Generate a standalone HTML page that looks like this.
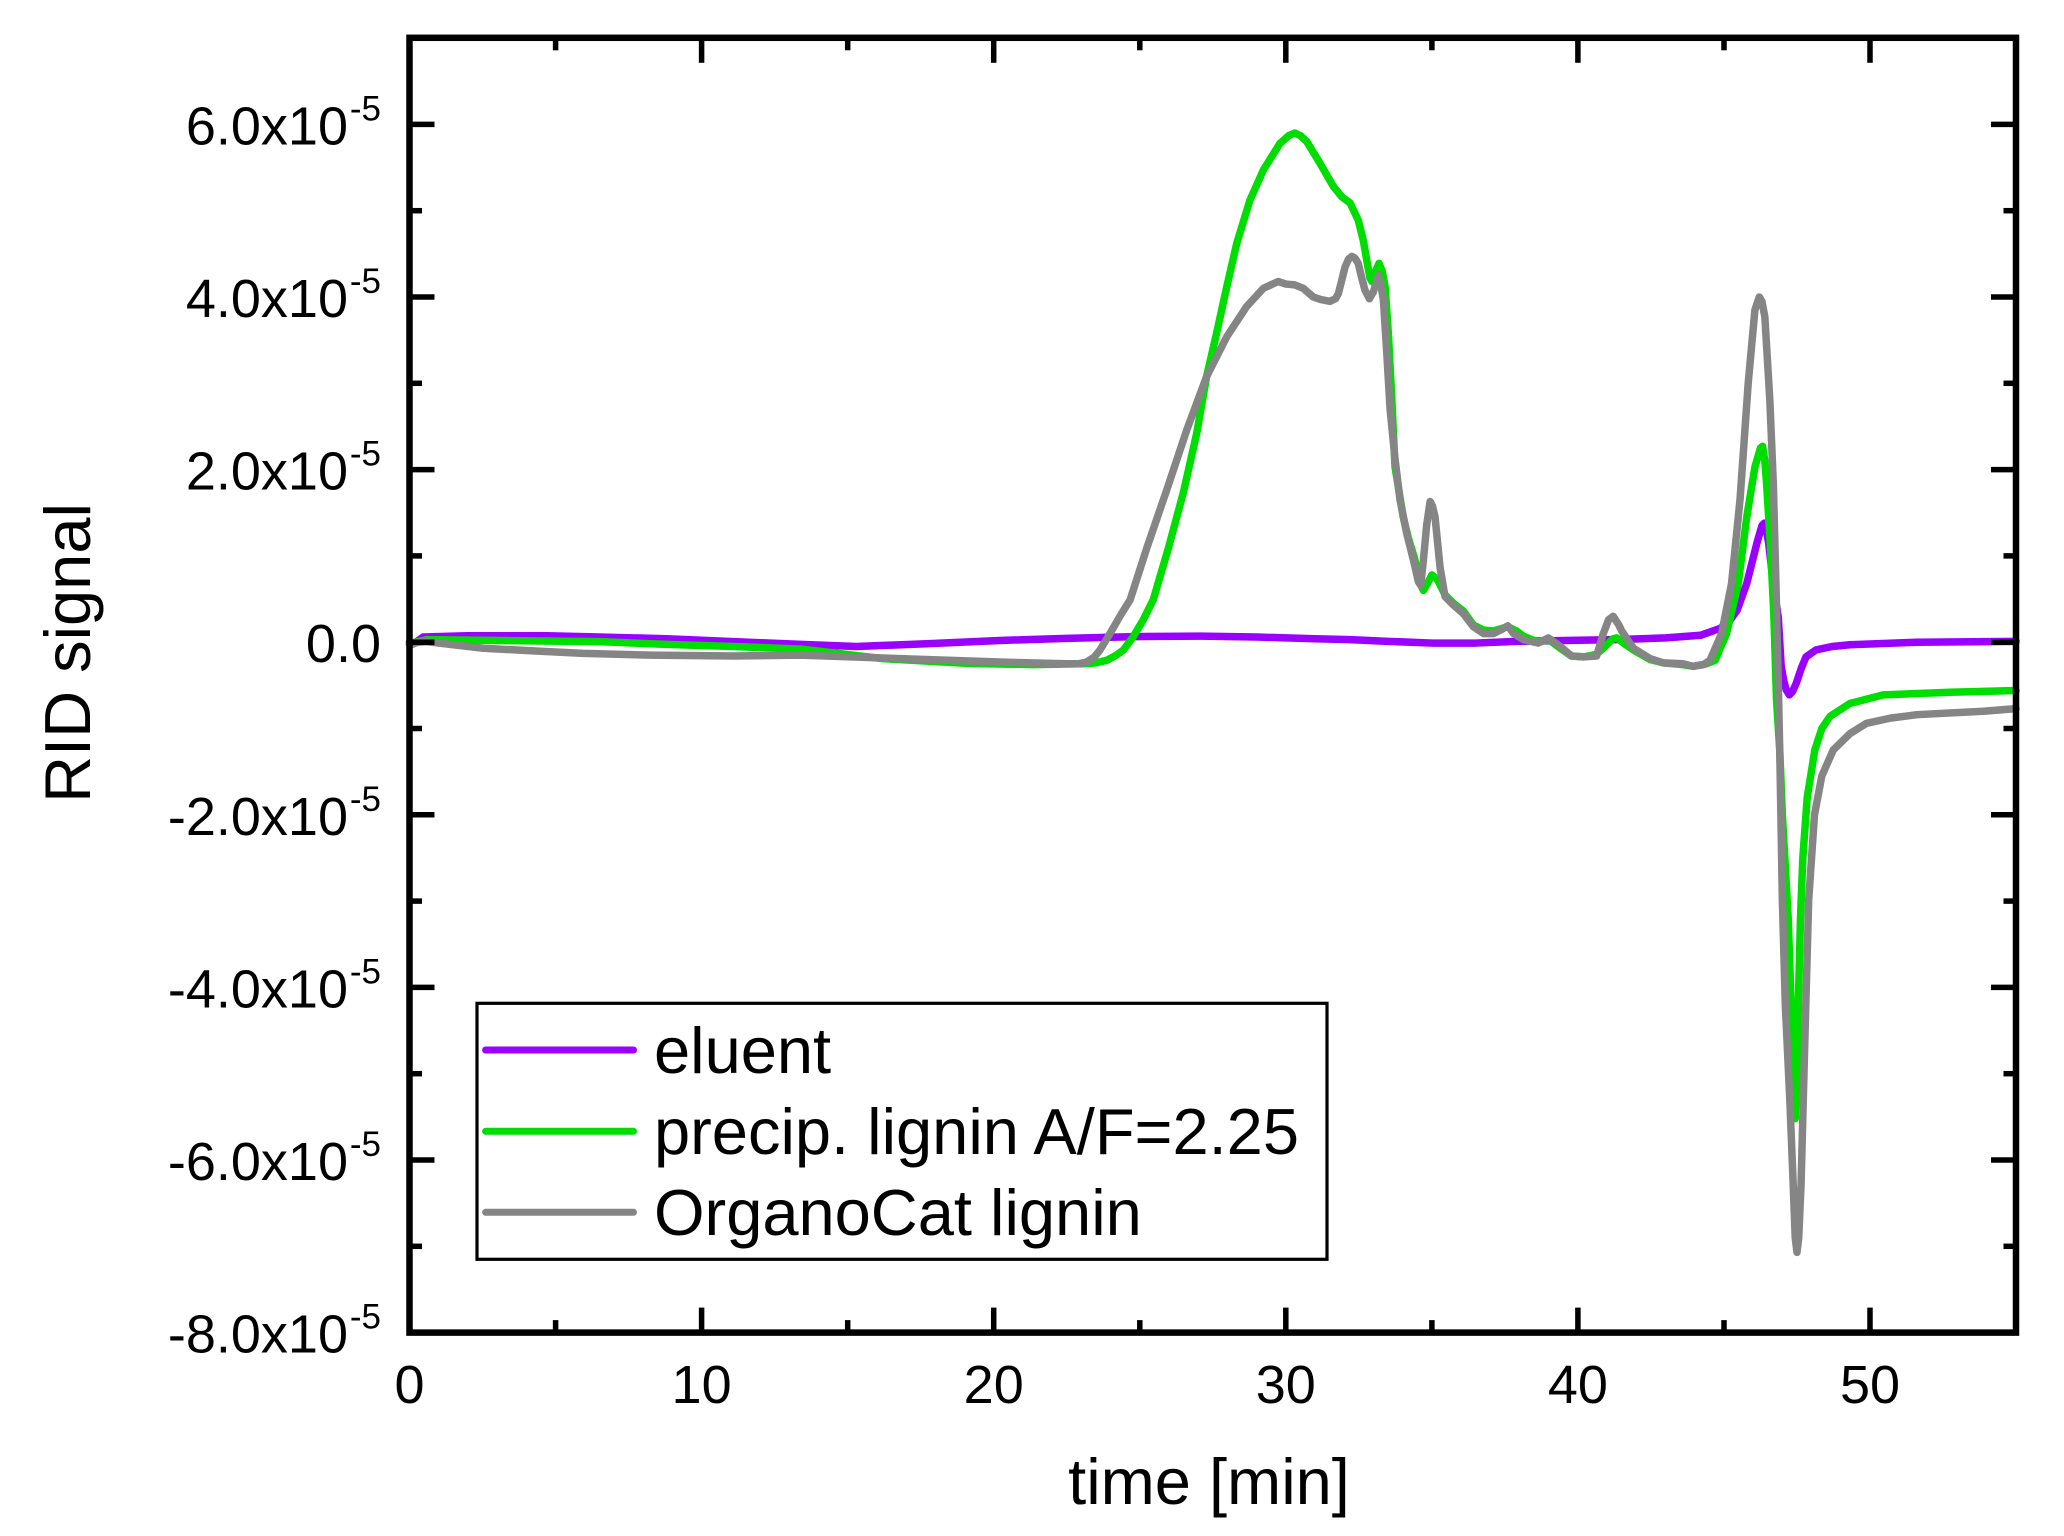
<!DOCTYPE html>
<html>
<head>
<meta charset="utf-8">
<style>
  html, body { margin: 0; padding: 0; background: #ffffff; }
  svg { display: block; }
  text { font-family: "Liberation Sans", Arial, sans-serif; fill: #000; }
</style>
</head>
<body>
<svg width="2064" height="1536" viewBox="0 0 2064 1536" xmlns="http://www.w3.org/2000/svg">
  <rect x="0" y="0" width="2064" height="1536" fill="#ffffff"/>

  <!-- data series: transform data (t in min, v in 1e-5) to pixels -->
  <g transform="translate(409.5 642.2) scale(29.21 -86.3)" fill="none" stroke-linejoin="round" stroke-linecap="round">
    <!-- eluent -->
    <polyline vector-effect="non-scaling-stroke" stroke="#9900ff" stroke-width="7.5" points="
      0,0 0.13,-0.02 0.47,0.06 1.96,0.075 4.7,0.075 6.5,0.06 8.8,0.04 11.1,0.006 13.4,-0.025
      15.3,-0.05 17.9,-0.015 20.2,0.02 22.5,0.045 24.8,0.065 27.1,0.07 29,0.06 31,0.04 32.2,0.03
      33.5,0.01 35,-0.01 36.5,-0.01 37.9,0.01 39.5,0.02 41.3,0.03 43,0.05 44.2,0.08 44.87,0.16
      45.2,0.25 45.45,0.37 45.78,0.68 46.13,1.15 46.3,1.35 46.38,1.38 46.45,1.3 46.53,1.15
      46.69,0.68 46.86,0.29 46.96,-0.28 47.05,-0.45 47.13,-0.55 47.24,-0.61 47.35,-0.57
      47.47,-0.48 47.65,-0.3 47.81,-0.17 48.15,-0.09 48.7,-0.05 49.31,-0.03 51.6,0 55,0.01"/>
    <!-- precip. lignin -->
    <polyline vector-effect="non-scaling-stroke" stroke="#00dd00" stroke-width="7.5" points="
      0,-0.02 0.13,-0.005 0.59,0.03 3.1,0.02 6.5,0.006 8.8,-0.025 11.1,-0.05 13.4,-0.08
      16.2,-0.19 19.1,-0.245 21.35,-0.26 23.07,-0.25 23.5,-0.24 23.87,-0.21 24.2,-0.15 24.44,-0.09
      24.78,0.065 25.12,0.26 25.46,0.49 25.98,1.09 26.49,1.73 26.95,2.42 27.29,3.08 27.63,3.58
      27.98,4.12 28.32,4.62 28.77,5.12 29.23,5.47 29.8,5.78 30.1,5.87 30.31,5.9 30.5,5.87
      30.72,5.8 31.17,5.55 31.63,5.28 31.92,5.16 32.2,5.09 32.48,4.89 32.65,4.66 32.88,4.22
      32.95,4.18 33.05,4.28 33.19,4.39 33.3,4.3 33.4,4.12 33.51,3.58 33.63,2.81 33.74,2.03
      34.02,1.45 34.2,1.2 34.4,0.98 34.6,0.68 34.71,0.6 34.85,0.68 35.0,0.78 35.2,0.72
      35.45,0.55 35.74,0.45 36.08,0.36 36.42,0.2 36.77,0.14 37.11,0.13 37.6,0.18 37.9,0.13
      38.13,0.07 38.64,0 39.0,0.03 39.4,-0.07 39.78,-0.16 40.2,-0.17 40.64,-0.14 40.9,-0.06
      41.2,0.04 41.33,0.05 41.6,-0.02 41.9,-0.09 42.47,-0.2 42.93,-0.24 43.6,-0.26 43.95,-0.28
      44.4,-0.25 44.7,-0.21 45.09,0.1 45.49,0.68 45.78,1.45 46.06,2.03 46.25,2.25 46.32,2.27
      46.4,2.1 46.46,1.84 46.6,1.07 46.71,0.3 46.8,-0.67 46.91,-1.25 47.0,-2.0 47.1,-2.6
      47.2,-3.2 47.3,-4.2 47.38,-5.0 47.44,-5.52 47.5,-5.0 47.56,-4.0 47.62,-3.2 47.7,-2.5
      47.85,-1.8 48.11,-1.25 48.35,-1.0 48.63,-0.86 49.31,-0.71 50.45,-0.61 52.74,-0.58 55,-0.56"/>
    <!-- OrganoCat lignin -->
    <polyline vector-effect="non-scaling-stroke" stroke="#858585" stroke-width="7.5" points="
      0,-0.03 0.3,0 0.59,0.006 1.0,-0.01 1.39,-0.025 2.53,-0.07 4.24,-0.1 5.95,-0.13 8.23,-0.15
      11.1,-0.16 13.4,-0.15 16.8,-0.19 20.2,-0.23 22.5,-0.25 22.9,-0.25 23.18,-0.23 23.45,-0.17
      23.64,-0.09 23.98,0.1 24.32,0.3 24.67,0.49 25.24,1.09 25.92,1.76 26.61,2.46 27.29,3.08
      27.98,3.54 28.66,3.89 29.23,4.1 29.74,4.18 30.0,4.15 30.31,4.14 30.6,4.1 30.94,4.0
      31.2,3.97 31.51,3.95 31.7,3.98 31.8,4.04 31.92,4.2 32.03,4.35 32.15,4.44 32.26,4.47
      32.37,4.45 32.48,4.39 32.6,4.22 32.71,4.08 32.86,3.98 33.0,4.06 33.17,4.25 33.25,4.15
      33.34,3.97 33.45,3.39 33.57,2.7 33.74,2.12 33.91,1.65 34.14,1.26 34.37,0.95 34.54,0.7
      34.62,0.66 34.71,0.95 34.82,1.35 34.94,1.63 35.02,1.58 35.11,1.45 35.28,0.87 35.45,0.53
      35.74,0.43 36.08,0.33 36.42,0.18 36.77,0.1 37.11,0.1 37.4,0.15 37.6,0.19 37.8,0.1
      38.13,0.03 38.64,-0.01 38.99,0.05 39.4,-0.05 39.78,-0.16 40.2,-0.17 40.64,-0.16 40.87,0.1
      41.05,0.26 41.21,0.3 41.4,0.2 41.5,0.13 41.9,-0.07 42.47,-0.19 42.93,-0.24 43.6,-0.25
      43.95,-0.28 44.3,-0.26 44.52,-0.21 44.92,0.1 45.26,0.68 45.55,1.65 45.83,3.0 46.06,3.85
      46.21,4.0 46.3,3.95 46.4,3.77 46.57,2.81 46.69,1.84 46.78,0.68 46.86,-0.48 46.91,-1.25
      47.0,-2.99 47.1,-4.2 47.26,-5.34 47.37,-6.28 47.44,-6.9 47.5,-7.07 47.56,-6.9 47.64,-6.28
      47.75,-4.86 47.9,-2.99 48.1,-2.0 48.35,-1.55 48.74,-1.25 49.31,-1.06 49.88,-0.94
      50.7,-0.88 51.6,-0.84 53.88,-0.8 55,-0.77"/>
  </g>

  <!-- axis frame -->
  <rect x="409.5" y="37.8" width="1606.5" height="1294.8" fill="none" stroke="#000" stroke-width="6.5"/>

  <!-- ticks -->
  <g stroke="#000" stroke-width="5.5">
    <!-- bottom major -->
    <line x1="409.5" y1="1332.6" x2="409.5" y2="1307.6"/>
    <line x1="701.6" y1="1332.6" x2="701.6" y2="1307.6"/>
    <line x1="993.7" y1="1332.6" x2="993.7" y2="1307.6"/>
    <line x1="1285.8" y1="1332.6" x2="1285.8" y2="1307.6"/>
    <line x1="1577.9" y1="1332.6" x2="1577.9" y2="1307.6"/>
    <line x1="1870.0" y1="1332.6" x2="1870.0" y2="1307.6"/>
    <!-- bottom minor -->
    <line x1="555.6" y1="1332.6" x2="555.6" y2="1320.1"/>
    <line x1="847.7" y1="1332.6" x2="847.7" y2="1320.1"/>
    <line x1="1139.8" y1="1332.6" x2="1139.8" y2="1320.1"/>
    <line x1="1431.9" y1="1332.6" x2="1431.9" y2="1320.1"/>
    <line x1="1724.0" y1="1332.6" x2="1724.0" y2="1320.1"/>
    <!-- top major -->
    <line x1="701.6" y1="37.8" x2="701.6" y2="62.8"/>
    <line x1="993.7" y1="37.8" x2="993.7" y2="62.8"/>
    <line x1="1285.8" y1="37.8" x2="1285.8" y2="62.8"/>
    <line x1="1577.9" y1="37.8" x2="1577.9" y2="62.8"/>
    <line x1="1870.0" y1="37.8" x2="1870.0" y2="62.8"/>
    <!-- top minor -->
    <line x1="555.6" y1="37.8" x2="555.6" y2="50.3"/>
    <line x1="847.7" y1="37.8" x2="847.7" y2="50.3"/>
    <line x1="1139.8" y1="37.8" x2="1139.8" y2="50.3"/>
    <line x1="1431.9" y1="37.8" x2="1431.9" y2="50.3"/>
    <line x1="1724.0" y1="37.8" x2="1724.0" y2="50.3"/>
    <!-- left major -->
    <line x1="409.5" y1="124.4" x2="434.5" y2="124.4"/>
    <line x1="409.5" y1="297.0" x2="434.5" y2="297.0"/>
    <line x1="409.5" y1="469.6" x2="434.5" y2="469.6"/>
    <line x1="409.5" y1="642.2" x2="434.5" y2="642.2"/>
    <line x1="409.5" y1="814.8" x2="434.5" y2="814.8"/>
    <line x1="409.5" y1="987.4" x2="434.5" y2="987.4"/>
    <line x1="409.5" y1="1160.0" x2="434.5" y2="1160.0"/>
    <!-- left minor -->
    <line x1="409.5" y1="210.7" x2="422" y2="210.7"/>
    <line x1="409.5" y1="383.3" x2="422" y2="383.3"/>
    <line x1="409.5" y1="555.9" x2="422" y2="555.9"/>
    <line x1="409.5" y1="728.5" x2="422" y2="728.5"/>
    <line x1="409.5" y1="901.1" x2="422" y2="901.1"/>
    <line x1="409.5" y1="1073.7" x2="422" y2="1073.7"/>
    <line x1="409.5" y1="1246.3" x2="422" y2="1246.3"/>
    <!-- right major -->
    <line x1="2016" y1="124.4" x2="1991" y2="124.4"/>
    <line x1="2016" y1="297.0" x2="1991" y2="297.0"/>
    <line x1="2016" y1="469.6" x2="1991" y2="469.6"/>
    <line x1="2016" y1="642.2" x2="1991" y2="642.2"/>
    <line x1="2016" y1="814.8" x2="1991" y2="814.8"/>
    <line x1="2016" y1="987.4" x2="1991" y2="987.4"/>
    <line x1="2016" y1="1160.0" x2="1991" y2="1160.0"/>
    <!-- right minor -->
    <line x1="2016" y1="210.7" x2="2003.5" y2="210.7"/>
    <line x1="2016" y1="383.3" x2="2003.5" y2="383.3"/>
    <line x1="2016" y1="555.9" x2="2003.5" y2="555.9"/>
    <line x1="2016" y1="728.5" x2="2003.5" y2="728.5"/>
    <line x1="2016" y1="901.1" x2="2003.5" y2="901.1"/>
    <line x1="2016" y1="1073.7" x2="2003.5" y2="1073.7"/>
    <line x1="2016" y1="1246.3" x2="2003.5" y2="1246.3"/>
  </g>

  <!-- y tick labels -->
  <g font-size="54" text-anchor="end">
    <text x="348" y="144.4">6.0x10</text>
    <text x="348" y="317.0">4.0x10</text>
    <text x="348" y="489.6">2.0x10</text>
    <text x="381" y="662.2">0.0</text>
    <text x="348" y="834.8">-2.0x10</text>
    <text x="348" y="1007.4">-4.0x10</text>
    <text x="348" y="1180.0">-6.0x10</text>
    <text x="348" y="1352.6">-8.0x10</text>
  </g>
  <g font-size="35" text-anchor="end">
    <text x="381" y="120.4">-5</text>
    <text x="381" y="293.0">-5</text>
    <text x="381" y="465.6">-5</text>
    <text x="381" y="810.8">-5</text>
    <text x="381" y="983.4">-5</text>
    <text x="381" y="1156.0">-5</text>
    <text x="381" y="1328.6">-5</text>
  </g>

  <!-- x tick labels -->
  <g font-size="54" text-anchor="middle">
    <text x="409.5" y="1403">0</text>
    <text x="701.6" y="1403">10</text>
    <text x="993.7" y="1403">20</text>
    <text x="1285.8" y="1403">30</text>
    <text x="1577.9" y="1403">40</text>
    <text x="1870.0" y="1403">50</text>
  </g>

  <!-- axis titles -->
  <text x="1209" y="1504" font-size="65" text-anchor="middle">time [min]</text>
  <text transform="translate(90 653) rotate(-90)" x="0" y="0" font-size="65" text-anchor="middle">RID signal</text>

  <!-- legend -->
  <rect x="477" y="1003.3" width="850" height="256" fill="#ffffff" stroke="#000" stroke-width="3.2"/>
  <g stroke-width="7" stroke-linecap="round">
    <line x1="485.6" y1="1050" x2="633.5" y2="1050" stroke="#9900ff"/>
    <line x1="485.6" y1="1131.3" x2="633.5" y2="1131.3" stroke="#00dd00"/>
    <line x1="485.6" y1="1212.3" x2="633.5" y2="1212.3" stroke="#858585"/>
  </g>
  <g font-size="65">
    <text x="654" y="1073">eluent</text>
    <text x="654" y="1154">precip. lignin A/F=2.25</text>
    <text x="654" y="1235">OrganoCat lignin</text>
  </g>
</svg>
</body>
</html>
